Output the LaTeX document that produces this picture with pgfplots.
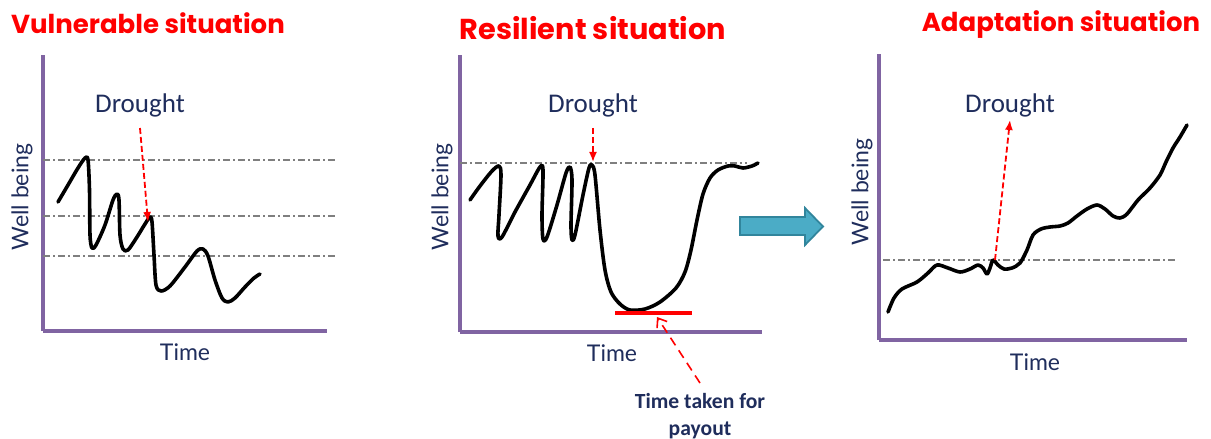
\documentclass[border=0pt]{standalone}
\usepackage{fontspec}
\setmainfont{Carlito}
\newfontfamily\titlefont{Poppins}
\newfontfamily\labelfont{Lato}
\usepackage{pgfplots}
\pgfplotsset{compat=1.18}
\usetikzlibrary{arrows.meta}
\definecolor{axpurple}{HTML}{8064A2}
\definecolor{navy}{HTML}{1F2D5C}
\definecolor{refgray}{HTML}{7F7F7F}
\definecolor{arrteal}{HTML}{4BACC6}
\definecolor{arrborder}{HTML}{31859C}
\pgfplotsset{
  panel/.style={scale only axis, axis lines=left,
    axis line style={-, line width=2pt, color=axpurple},
    xtick=\empty, ytick=\empty, clip=false,
    xlabel={Time}, ylabel={Well being},
    label style={font=\labelfont\fontsize{11.5}{13}\selectfont, text=navy, anchor=center}},
  curve/.style={black, line width=1.8pt, smooth, no marks, line cap=round, line join=round},
  refline/.style={refgray, line width=0.75pt, dash pattern=on 3.5pt off 1.5pt on 1pt off 1.5pt, no marks},
}
\tikzset{
  drought/.style={red, line width=0.9pt, dash pattern=on 3pt off 1.5pt, -{Latex[length=5pt,width=4pt]}},
  dlabel/.style={font=\fontsize{13.5}{15}\selectfont, text=navy},
  ttl/.style={font=\titlefont\bfseries\fontsize{#1}{16}\selectfont, text=red},
}
\begin{document}
\begin{tikzpicture}
\useasboundingbox (0,0) rectangle (605.5pt,-219.5pt);
% ---------- Vulnerable ----------
\begin{axis}[panel, at={(21.5pt,-165.5pt)}, anchor=south west,
  width=142pt, height=138pt, xmin=43, xmax=327, ymin=-331, ymax=-55,
  xlabel style={at={(axis cs:185,-352)}},
  ylabel style={at={(axis cs:22,-197)}}]
\addplot[refline] coordinates {(43,-160) (335,-160)};
\addplot[refline] coordinates {(43,-216) (335,-216)};
\addplot[refline] coordinates {(43,-256) (335,-256)};
\addplot[curve] coordinates {(58,-202) (68,-185) (78,-168) (85,-158) (88,-160) (89.5,-190) (90,-235) (92,-248) (96,-245) (105,-225) (113,-200) (117,-194) (119,-200) (120,-235) (123,-249) (128,-250) (137,-237) (145,-224) (150,-217) (152,-222) (154,-255) (156,-285) (161,-291) (170,-286) (185,-267) (197,-251) (203,-249) (208,-256) (215,-280) (222,-298) (228,-302) (235,-298) (245,-287) (254,-278) (260,-274)};
\draw[drought] (axis cs:140,-128) -- (axis cs:148,-222);
\node[dlabel] at (axis cs:140,-105) {Drought};
\node[ttl=13] at (axis cs:148,-23) {Vulnerable situation};
\end{axis}
% ---------- Resilient ----------
\begin{axis}[panel, at={(230pt,-166pt)}, anchor=south west,
  width=151pt, height=138.5pt, xmin=460, xmax=762, ymin=-332, ymax=-55,
  xlabel style={at={(axis cs:612,-353)}},
  ylabel style={at={(axis cs:442,-197)}}]
\addplot[refline] coordinates {(460,-163) (747,-163)};
\addplot[curve] coordinates {(470,-200) (480,-186) (492,-171) (499,-166) (501,-175) (499,-215) (498,-236) (502,-237) (515,-212) (530,-185) (540,-167) (543,-170) (542,-215) (543,-239) (547,-237) (557,-205) (566,-173) (570,-167) (572,-180) (571,-225) (572,-240) (575,-235) (583,-195) (589,-168) (592,-165) (595,-175) (600,-230) (605,-270) (611,-292) (620,-304) (630,-310) (645,-309) (660,-302) (676,-288) (685,-272) (691,-250) (697,-220) (703,-194) (710,-178) (718,-170) (728,-166) (735,-166) (743,-168) (752,-166) (758,-163)};
\addplot[red, line width=2.2pt, no marks] coordinates {(615,-313) (692,-313)};
\draw[drought] (axis cs:593,-128) -- (axis cs:593,-162);
\draw[red, line width=0.8pt, dash pattern=on 4.5pt off 3pt, -{Straight Barb[length=4pt,width=6pt]}] (axis cs:700,-383) -- (axis cs:657,-317);
\node[dlabel] at (axis cs:593,-105) {Drought};
\node[font=\bfseries\fontsize{10.8}{13.5}\selectfont, text=navy, align=center] at (axis cs:700,-416) {Time taken for\\payout};
\node[ttl=14.4] at (axis cs:593,-28) {Resilient situation};
\filldraw[fill=arrteal, draw=arrborder, line width=0.9pt] (axis cs:740,-217) -- (axis cs:805,-217) -- (axis cs:805,-208) -- (axis cs:823,-226.5) -- (axis cs:805,-245) -- (axis cs:805,-235) -- (axis cs:740,-235) -- cycle;
\end{axis}
% ---------- Adaptation ----------
\begin{axis}[panel, at={(439.5pt,-170pt)}, anchor=south west,
  width=154pt, height=143pt, xmin=879, xmax=1187, ymin=-340, ymax=-54,
  xlabel style={at={(axis cs:1035,-362)}},
  ylabel style={at={(axis cs:862,-192)}}]
\addplot[refline] coordinates {(883,-260) (1178,-260)};
\addplot[curve] coordinates {(888,-312) (894,-298) (902,-289) (917,-282) (928,-273) (937,-265) (948,-268) (960,-272) (970,-269) (978,-265) (983,-268) (987,-274) (990,-268) (993,-260) (998,-265) (1004,-269) (1012,-268) (1020,-263) (1027,-250) (1033,-235) (1041,-229) (1050,-227) (1060,-226) (1068,-223) (1077,-216) (1087,-209) (1097,-205) (1105,-209) (1113,-216) (1120,-218) (1127,-214) (1138,-200) (1150,-188) (1160,-175) (1166,-162) (1173,-148) (1180,-137) (1187,-125)};
\draw[drought] (axis cs:995,-260) -- (axis cs:1010,-120);
\node[dlabel] at (axis cs:1010,-105) {Drought};
\node[ttl=13] at (axis cs:1061,-25) {Adaptation situation};
\end{axis}
\end{tikzpicture}
\end{document}
